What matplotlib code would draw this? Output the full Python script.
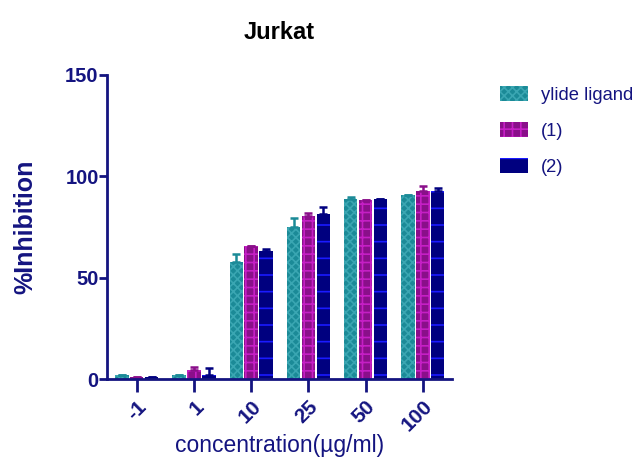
import numpy as np
import matplotlib
matplotlib.use("Agg")
import matplotlib.pyplot as plt

plt.rcParams['font.family'] = ['Liberation Sans', 'DejaVu Sans']
plt.rcParams['hatch.linewidth'] = 1.2

# data
conc = ["-1", "1", "10", "25", "50", "100"]
ylide = [1.8, 2.2, 57.8, 74.8, 89.0, 90.6]
ylide_err = [0.0, 0.0, 4.0, 4.4, 1.0, 0.0]
c1 = [1.2, 4.3, 65.8, 80.2, 88.5, 93.0]
c1_err = [0.0, 1.7, 0.0, 1.5, 0.0, 2.4]
c2 = [0.8, 2.0, 63.3, 81.6, 89.0, 92.6]
c2_err = [0.0, 3.4, 0.8, 3.5, 0.0, 1.4]

axcol = "#141480"
series = [
    ("ylide ligand", ylide, ylide_err, "#1b8a97", "#3aa6b2", "xxxx"),
    ("(1)", c1, c1_err, "#8a0f8a", "#c51fc5", "++"),
    ("(2)", c2, c2_err, "#00007f", "#1a1aff", "-"),
]

fig = plt.figure(figsize=(6.38, 4.61), dpi=100)
ax = fig.add_axes([107/638, 1-379/461, (452-107)/638, (379-75)/461])

x = np.arange(len(conc))
w = 0.235
offs = [-0.26, 0.0, 0.26]
handles = []
for (name, vals, err, fc, hc, hatch), off in zip(series, offs):
    b = ax.bar(x + off, vals, w, color=fc, edgecolor=hc, linewidth=0, hatch=hatch, label=name)
    ax.errorbar(x + off, vals, yerr=[np.zeros(len(err)), err], fmt="none",
                ecolor=fc, elinewidth=1.8, capsize=3, capthick=1.8)
    handles.append(b)

ax.set_xlim(-0.52, 5.51)
ax.set_ylim(0, 150)
ax.set_yticks([0, 50, 100, 150])
ax.set_xticks(x)
ax.set_xticklabels(conc, rotation=45, ha="right", va="top", fontsize=15,
                   fontweight="bold", color=axcol, rotation_mode="anchor")
for lab in ax.get_yticklabels():
    lab.set_fontsize(14.5)
    lab.set_fontweight("bold")
    lab.set_color(axcol)

for s in ["top", "right"]:
    ax.spines[s].set_visible(False)
for s in ["left", "bottom"]:
    ax.spines[s].set_color(axcol)
    ax.spines[s].set_linewidth(2)
ax.tick_params(axis="both", colors=axcol, width=2)
ax.tick_params(axis="x", length=9, pad=4)
ax.tick_params(axis="y", length=6, pad=0)

ax.set_title("Jurkat", fontsize=17, fontweight="bold", color="black", pad=26)
ax.set_ylabel("%Inhibition", fontsize=18, fontweight="bold", color=axcol, labelpad=20)
ax.set_xlabel("concentration(\u00b5g/ml)", fontsize=16.5, color=axcol, labelpad=-1)

leg = fig.legend(handles=handles, loc="upper left", bbox_to_anchor=(500/638, 1-86/461),
                 frameon=False, handlelength=1.55, handleheight=0.85,
                 labelspacing=1.0, handletextpad=0.7, borderpad=0, borderaxespad=0,
                 prop={"size": 13.2})
for t in leg.get_texts():
    t.set_color(axcol)

fig.savefig("out.png", dpi=100)
